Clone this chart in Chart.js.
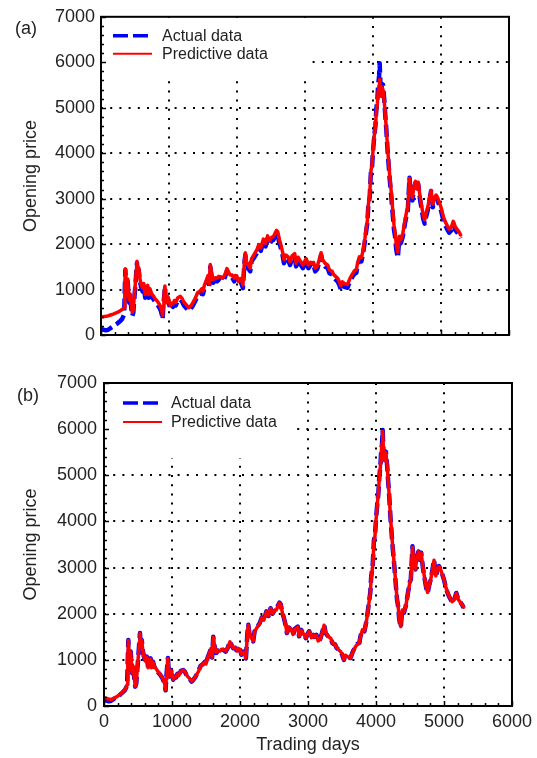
<!DOCTYPE html>
<html>
<head>
<meta charset="utf-8">
<script src="https://cdn.jsdelivr.net/npm/chart.js@4.4.0/dist/chart.umd.min.js"></script>
<style>
  html, body { margin: 0; padding: 0; background: #fff; }
  #wrap { position: relative; width: 537px; height: 758px; font-family: "Liberation Sans", Arial, sans-serif; }
  canvas { position: absolute; left: 0; }
  #chartA { top: 0; }
  #chartB { top: 360px; }
  .panel { position: absolute; font-size: 18px; color: #222; line-height: 20px; }
</style>
</head>
<body>
<div id="wrap">
  <canvas id="chartA" width="537" height="360"></canvas>
  <canvas id="chartB" width="537" height="398"></canvas>
  <div class="panel" style="left:15px; top:18px;">(a)</div>
  <div class="panel" style="left:17px; top:385px;">(b)</div>
</div>
<script>
// trading day index
const days = [
  0, 30, 60, 100, 140, 180, 230, 270, 310, 340,
  350, 358, 370, 380, 392, 405, 416, 430, 445, 460,
  475, 490, 505, 520, 529, 540, 555, 570, 590, 612,
  630, 650, 670, 686, 700, 720, 740, 774, 800, 830,
  860, 880, 895, 906, 915, 925, 940, 950, 965, 985,
  1000, 1019, 1040, 1060, 1080, 1100, 1130, 1166, 1190, 1220,
  1250, 1289, 1310, 1340, 1387, 1420, 1450, 1485, 1500, 1520,
  1550, 1575, 1590, 1607, 1625, 1650, 1680, 1705, 1730, 1760,
  1790, 1820, 1852, 1875, 1900, 1930, 1960, 1975, 2000, 2020,
  2050, 2073, 2087, 2110, 2122, 2140, 2160, 2194, 2215, 2250,
  2291, 2320, 2350, 2388, 2420, 2450, 2480, 2510, 2534, 2560,
  2582, 2600, 2625, 2640, 2670, 2690, 2720, 2752, 2780, 2810,
  2849, 2870, 2900, 2930, 2970, 2990, 3018, 3050, 3080, 3100,
  3125, 3150, 3180, 3210, 3237, 3260, 3300, 3334, 3360, 3400,
  3420, 3450, 3479, 3500, 3528, 3550, 3580, 3625, 3660, 3700,
  3730, 3756, 3770, 3800, 3830, 3854, 3880, 3902, 3916, 3930,
  3951, 3970, 3985, 4000, 4020, 4035, 4049, 4065, 4075, 4090,
  4098, 4110, 4120, 4130, 4146, 4165, 4180, 4195, 4215, 4244,
  4270, 4293, 4310, 4325, 4342, 4365, 4380, 4390, 4410, 4439,
  4470, 4500, 4512, 4537, 4555, 4580, 4600, 4625, 4645, 4665,
  4690, 4710, 4740, 4760, 4780, 4805, 4830, 4854, 4880, 4905,
  4927, 4950, 4975, 5000, 5030, 5060, 5090, 5120, 5150, 5181,
  5210, 5240, 5265, 5288
];

// actual opening price
const actualPrice = [
  130, 120, 105, 110, 150, 190, 240, 290, 350, 450,
  1000, 1430, 1100, 780, 1180, 900, 710, 850, 600, 420,
  490, 800, 1070, 1400, 1580, 1290, 1430, 1200, 1050, 960,
  1070, 820, 1000, 1030, 820, 960, 850, 780, 720, 670,
  600, 530, 450, 340, 600, 780, 1040, 800, 640, 780,
  700, 570, 640, 620, 700, 650, 760, 780, 740, 650,
  600, 530, 560, 620, 750, 870, 900, 960, 900, 1030,
  1150, 1250, 1050, 1500, 1300, 1150, 1200, 1180, 1230, 1210,
  1180, 1260, 1400, 1320, 1250, 1260, 1180, 1250, 1220, 1110,
  1180, 1100, 1030, 1600, 1760, 1550, 1480, 1400, 1620, 1700,
  1800, 1920, 1850, 2050, 1950, 2120, 2000, 2080, 2090, 2180,
  2240, 2200, 2000, 1940, 1760, 1580, 1700, 1650, 1540, 1680,
  1720, 1510, 1650, 1560, 1470, 1550, 1620, 1470, 1540, 1500,
  1540, 1400, 1450, 1600, 1760, 1580, 1500, 1470, 1360, 1330,
  1260, 1220, 1180, 1120, 1000, 1110, 1060, 1040, 1180, 1290,
  1350, 1370, 1500, 1660, 1620, 1800, 2050, 2310, 2450, 2810,
  3030, 3600, 3680, 4040, 4400, 4600, 4970, 5200, 5480, 5700,
  5980, 5500, 5300, 5520, 5510, 5190, 4850, 4540, 4040, 3460,
  3030, 2600, 2300, 2165, 1880, 1700, 2000, 2090, 2020, 2170,
  2450, 2700, 2740, 3460, 3100, 2960, 3200, 3350, 3170, 3320,
  3000, 2810, 2550, 2450, 2600, 2740, 2950, 3170, 2810, 2950,
  3030, 2960, 2850, 2740, 2550, 2420, 2330, 2250, 2300, 2450,
  2310, 2250, 2200, 2130
];

// predictive data, panel (a)
const predictedA = [
  400, 400, 410, 420, 440, 460, 490, 520, 560, 600,
  1050, 1460, 1160, 850, 1230, 960, 780, 900, 670, 500,
  560, 860, 1130, 1450, 1620, 1350, 1480, 1260, 1110, 1030,
  1130, 890, 1060, 1090, 890, 1020, 920, 850, 790, 740,
  670, 600, 520, 430, 640, 840, 1080, 870, 710, 840,
  770, 640, 700, 690, 760, 720, 820, 850, 810, 720,
  670, 600, 620, 680, 810, 930, 960, 1020, 970, 1090,
  1210, 1310, 1120, 1550, 1370, 1220, 1260, 1250, 1290, 1280,
  1250, 1320, 1460, 1390, 1320, 1320, 1250, 1310, 1290, 1180,
  1240, 1170, 1100, 1640, 1810, 1620, 1550, 1470, 1680, 1770,
  1870, 1990, 1920, 2110, 2020, 2180, 2070, 2150, 2160, 2240,
  2300, 2270, 2080, 2010, 1830, 1660, 1760, 1720, 1610, 1740,
  1790, 1580, 1710, 1630, 1540, 1610, 1680, 1540, 1600, 1570,
  1600, 1470, 1510, 1660, 1810, 1650, 1570, 1540, 1430, 1400,
  1330, 1290, 1250, 1190, 1080, 1170, 1130, 1110, 1240, 1350,
  1420, 1440, 1560, 1720, 1700, 1860, 2110, 2360, 2500, 2850,
  3080, 3620, 3720, 4060, 4400, 4580, 4900, 5100, 5350, 5500,
  5620, 5400, 5250, 5450, 5400, 5150, 4850, 4560, 4100, 3540,
  3120, 2700, 2400, 2260, 1990, 1820, 2080, 2170, 2100, 2240,
  2520, 2760, 2800, 3450, 3160, 3030, 3250, 3380, 3220, 3360,
  3070, 2880, 2630, 2530, 2670, 2810, 3000, 3180, 2880, 3010,
  3080, 3020, 2920, 2810, 2630, 2500, 2410, 2330, 2370, 2500,
  2380, 2320, 2270, 2200
];

// predictive data, panel (b)
const predictedB = [
  180, 170, 150, 140, 160, 195, 245, 295, 355, 460,
  1020, 1420, 1120, 800, 1170, 910, 720, 860, 610, 430,
  500, 810, 1080, 1390, 1570, 1300, 1420, 1210, 1060, 970,
  1060, 830, 1000, 1020, 830, 950, 860, 790, 730, 680,
  610, 540, 460, 350, 590, 770, 1030, 810, 650, 770,
  710, 580, 640, 630, 690, 660, 750, 780, 750, 660,
  610, 540, 560, 630, 740, 860, 900, 950, 910, 1020,
  1140, 1250, 1060, 1490, 1310, 1160, 1200, 1190, 1230, 1220,
  1190, 1260, 1390, 1330, 1260, 1260, 1190, 1250, 1220, 1120,
  1170, 1110, 1040, 1580, 1750, 1560, 1490, 1410, 1610, 1700,
  1790, 1910, 1860, 2040, 1960, 2110, 2010, 2080, 2080, 2170,
  2230, 2200, 2010, 1950, 1770, 1590, 1700, 1660, 1550, 1670,
  1710, 1520, 1640, 1570, 1480, 1550, 1610, 1480, 1540, 1500,
  1530, 1410, 1450, 1590, 1750, 1590, 1500, 1470, 1370, 1330,
  1270, 1220, 1180, 1130, 1010, 1100, 1070, 1040, 1170, 1290,
  1340, 1370, 1490, 1650, 1630, 1790, 2040, 2300, 2440, 2790,
  3010, 3580, 3680, 4020, 4390, 4600, 4950, 5190, 5460, 5690,
  5950, 5520, 5320, 5500, 5490, 5200, 4860, 4550, 4060, 3480,
  3040, 2620, 2310, 2180, 1890, 1720, 1990, 2080, 2030, 2170,
  2440, 2690, 2740, 3440, 3110, 2970, 3190, 3340, 3180, 3310,
  3010, 2820, 2560, 2460, 2600, 2740, 2940, 3160, 2820, 2950,
  3020, 2960, 2850, 2750, 2560, 2430, 2340, 2260, 2300, 2440,
  2310, 2250, 2200, 2140
];

const xMax = 6000;
const yMax = 7000;

Chart.defaults.font.family = '"Liberation Sans", Arial, sans-serif';
Chart.defaults.color = '#222';

const toPoints = (vals) => days.map((d, i) => ({ x: d, y: vals[i] }));

// box round the plot + small inward ticks on bottom and left
const frameTicks = {
  id: 'frameTicks',
  afterDraw(chart) {
    const { ctx, chartArea: a, scales: { x, y } } = chart;
    ctx.save();
    ctx.strokeStyle = '#000';
    ctx.lineWidth = 1.5;
    ctx.beginPath();
    for (let v = 0; v <= xMax; v += 200) {
      const px = Math.round(x.getPixelForValue(v)) + 0.5;
      const len = v % 1000 === 0 ? 5 : 3;
      ctx.moveTo(px, a.bottom);
      ctx.lineTo(px, a.bottom - len);
    }
    for (let v = 0; v <= yMax; v += 200) {
      const py = Math.round(y.getPixelForValue(v)) + 0.5;
      const len = v % 1000 === 0 ? 5 : 3;
      ctx.moveTo(a.left, py);
      ctx.lineTo(a.left + len, py);
    }
    ctx.stroke();
    ctx.lineWidth = 2;
    ctx.strokeRect(a.left, a.top, a.right - a.left, a.bottom - a.top);
    ctx.restore();
  }
};

// legend sitting inside the plot, white box hides the grid under it
const insetLegend = {
  id: 'insetLegend',
  beforeDatasetsDraw(chart, args, opts) {
    const { ctx, chartArea: a } = chart;
    ctx.save();
    ctx.fillStyle = '#fff';
    ctx.fillRect(a.left + 1, a.top + 1, opts.width, opts.height);
    ctx.font = '16px "Liberation Sans", Arial, sans-serif';
    ctx.textBaseline = 'middle';
    chart.data.datasets.forEach((ds, i) => {
      const yy = a.top + opts.rows[i];
      ctx.strokeStyle = ds.borderColor;
      ctx.lineWidth = ds.legendWidth;
      ctx.setLineDash(ds.legendDash || []);
      ctx.beginPath();
      ctx.moveTo(a.left + opts.lineFrom, yy);
      ctx.lineTo(a.left + opts.lineTo, yy);
      ctx.stroke();
      ctx.setLineDash([]);
      ctx.fillStyle = '#222';
      ctx.fillText(ds.label, a.left + opts.textX, yy + 1);
    });
    ctx.restore();
  }
};

const gridColor = (max) => (c) =>
  (c.tick && (c.tick.value === 0 || c.tick.value === max)) ? 'rgba(0,0,0,0)' : '#000';

const plainNumber = (v) => String(v);

function makePanel(id, predicted, p) {
  return new Chart(document.getElementById(id), {
    type: 'line',
    data: {
      datasets: [
        {
          label: 'Actual data',
          data: toPoints(actualPrice),
          borderColor: '#0000ff',
          borderWidth: 4.5,
          borderDash: [12, 5],
          borderJoinStyle: 'round',
          legendWidth: 3.5,
          legendDash: [15, 5],
          pointRadius: 0,
          order: 2
        },
        {
          label: 'Predictive data',
          data: toPoints(predicted),
          borderColor: '#ff0000',
          borderWidth: 3.5,
          borderJoinStyle: 'round',
          borderCapStyle: 'round',
          legendWidth: 2,
          pointRadius: 0,
          order: 1
        }
      ]
    },
    options: {
      responsive: false,
      animation: false,
      layout: { padding: { top: p.top, right: p.right, left: 0, bottom: 0 } },
      plugins: {
        legend: { display: false },
        tooltip: { enabled: false },
        insetLegend: p.legend
      },
      scales: {
        x: {
          type: 'linear',
          min: 0,
          max: xMax,
          afterFit: (s) => { s.height = p.xHeight; },
          ticks: { stepSize: 1000, display: p.xLabels, padding: 5, color: '#222', font: { size: 18 }, callback: plainNumber },
          grid: { color: gridColor(xMax), lineWidth: 2, drawTicks: false },
          border: { display: false, dash: [2, 7.2] },
          title: {
            display: p.xLabels,
            text: 'Trading days',
            color: '#222',
            font: { size: 18 },
            padding: { top: 0, bottom: 2 }
          }
        },
        y: {
          min: 0,
          max: yMax,
          afterFit: (s) => { s.width = p.yWidth; },
          ticks: { stepSize: 1000, padding: p.yPad, color: '#222', font: { size: 18 }, callback: plainNumber },
          grid: { color: gridColor(yMax), lineWidth: 2, drawTicks: false },
          border: { display: false, dash: [2, 7.2] },
          title: {
            display: true,
            text: 'Opening price',
            color: '#222',
            font: { size: 18 },
            padding: { top: 20, bottom: 0 }
          }
        }
      }
    },
    plugins: [frameTicks, insetLegend]
  });
}

makePanel('chartA', predictedA, {
  top: 14, right: 28, xHeight: 25, yWidth: 101, yPad: 6, xLabels: false,
  legend: { width: 210, height: 62, lineFrom: 12, lineTo: 51, textX: 61, rows: [19, 37] }
});

makePanel('chartB', predictedB, {
  top: 23, right: 24, xHeight: 52, yWidth: 104, yPad: 7, xLabels: true,
  legend: { width: 188, height: 74, lineFrom: 19, lineTo: 58, textX: 67, rows: [20, 39] }
});
</script>
</body>
</html>
